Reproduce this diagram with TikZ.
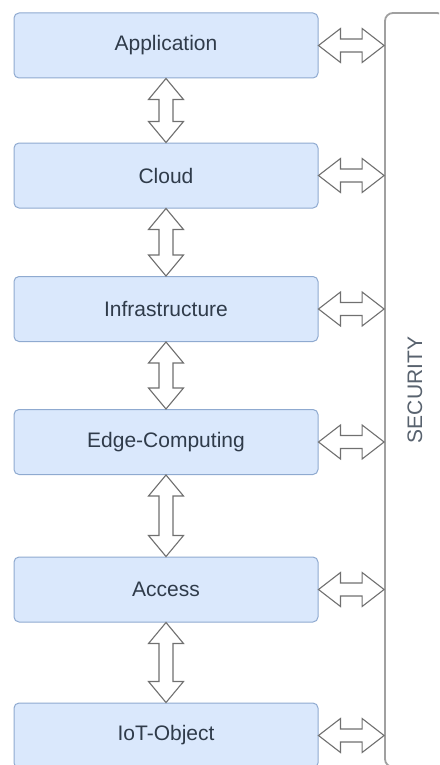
\documentclass[tikz,border=0pt]{standalone}
\usepackage{fontspec}
\usepackage{graphicx}
\setmainfont{Liberation Sans}
\usetikzlibrary{calc}

\definecolor{layerfill}{HTML}{DAE8FC}
\definecolor{layerline}{HTML}{8FAAD0}
\definecolor{layertext}{HTML}{2F3B4A}
\definecolor{secline}{HTML}{A0A0A0}
\definecolor{arrowline}{HTML}{707070}

\tikzset{
  layer/.style={draw=layerline, fill=layerfill, line width=1pt, rounded corners=5pt,
    minimum width=304pt, minimum height=65pt, inner sep=0pt,
    text=layertext, font=\fontsize{21}{25}\selectfont},
  secbox/.style={draw=secline, line width=1.8pt, rounded corners=8pt,
    minimum width=60pt, minimum height=754pt, inner sep=0pt,
    text=layertext!80, font=\fontsize{21}{25}\selectfont},
  blockarrow/.style={draw=arrowline, fill=white, line width=1.1pt, line join=miter},
  % vertical double block arrow, from the upper node down to the lower one
  vblock/.style={blockarrow, to path={
    let \p1=(\tikztostart), \p2=(\tikztotarget) in
    (\p1) -- (\x1+17.5,\y1-21) -- (\x1+7,\y1-21) -- (\x1+7,\y2+21) -- (\x1+17.5,\y2+21)
    -- (\x2,\y2) -- (\x1-17.5,\y2+21) -- (\x1-7,\y2+21) -- (\x1-7,\y1-21)
    -- (\x1-17.5,\y1-21) -- cycle}},
  % horizontal double block arrow, from a layer to the security bar
  hblock/.style={blockarrow, to path={
    let \p1=(\tikztostart), \p2=(\tikztotarget) in
    (\p1) -- (\x1+22,\y1+17) -- (\x1+22,\y1+6.5) -- (\x2-22,\y1+6.5) -- (\x2-22,\y1+17)
    -- (\x2,\y1) -- (\x2-22,\y1-17) -- (\x2-22,\y1-6.5) -- (\x1+22,\y1-6.5)
    -- (\x1+22,\y1-17) -- cycle}}
}

\begin{document}
\begin{tikzpicture}[x=1pt,y=-1pt]
  \useasboundingbox (0,0) rectangle (439,765);
  \clip (0,0) rectangle (439,765);

  % layers
  \node[layer] (app)   at (166,45.5)  {Application};
  \node[layer] (cloud) at (166,175.5) {Cloud};
  \node[layer] (infra) at (166,309)   {Infrastructure};
  \node[layer] (edge)  at (166,442)   {Edge-Computing};
  \node[layer] (acc)   at (166,589.5) {Access};
  \node[layer] (iot)   at (166,735.5) {IoT-Object};

  % security bar on the right
  \node[secbox] (sec) at (415,390) {\rotatebox{90}{SECURITY}};

  % links between layers
  \draw[vblock] (app.south)   to (cloud.north);
  \draw[vblock] (cloud.south) to (infra.north);
  \draw[vblock] (infra.south) to (edge.north);
  \draw[vblock] (edge.south)  to (acc.north);
  \draw[vblock] (acc.south)   to (iot.north);

  % links to security
  \foreach \lay in {app,cloud,infra,edge,acc,iot}
    \draw[hblock] (\lay.east) to (\lay.east -| sec.west);
\end{tikzpicture}
\end{document}
